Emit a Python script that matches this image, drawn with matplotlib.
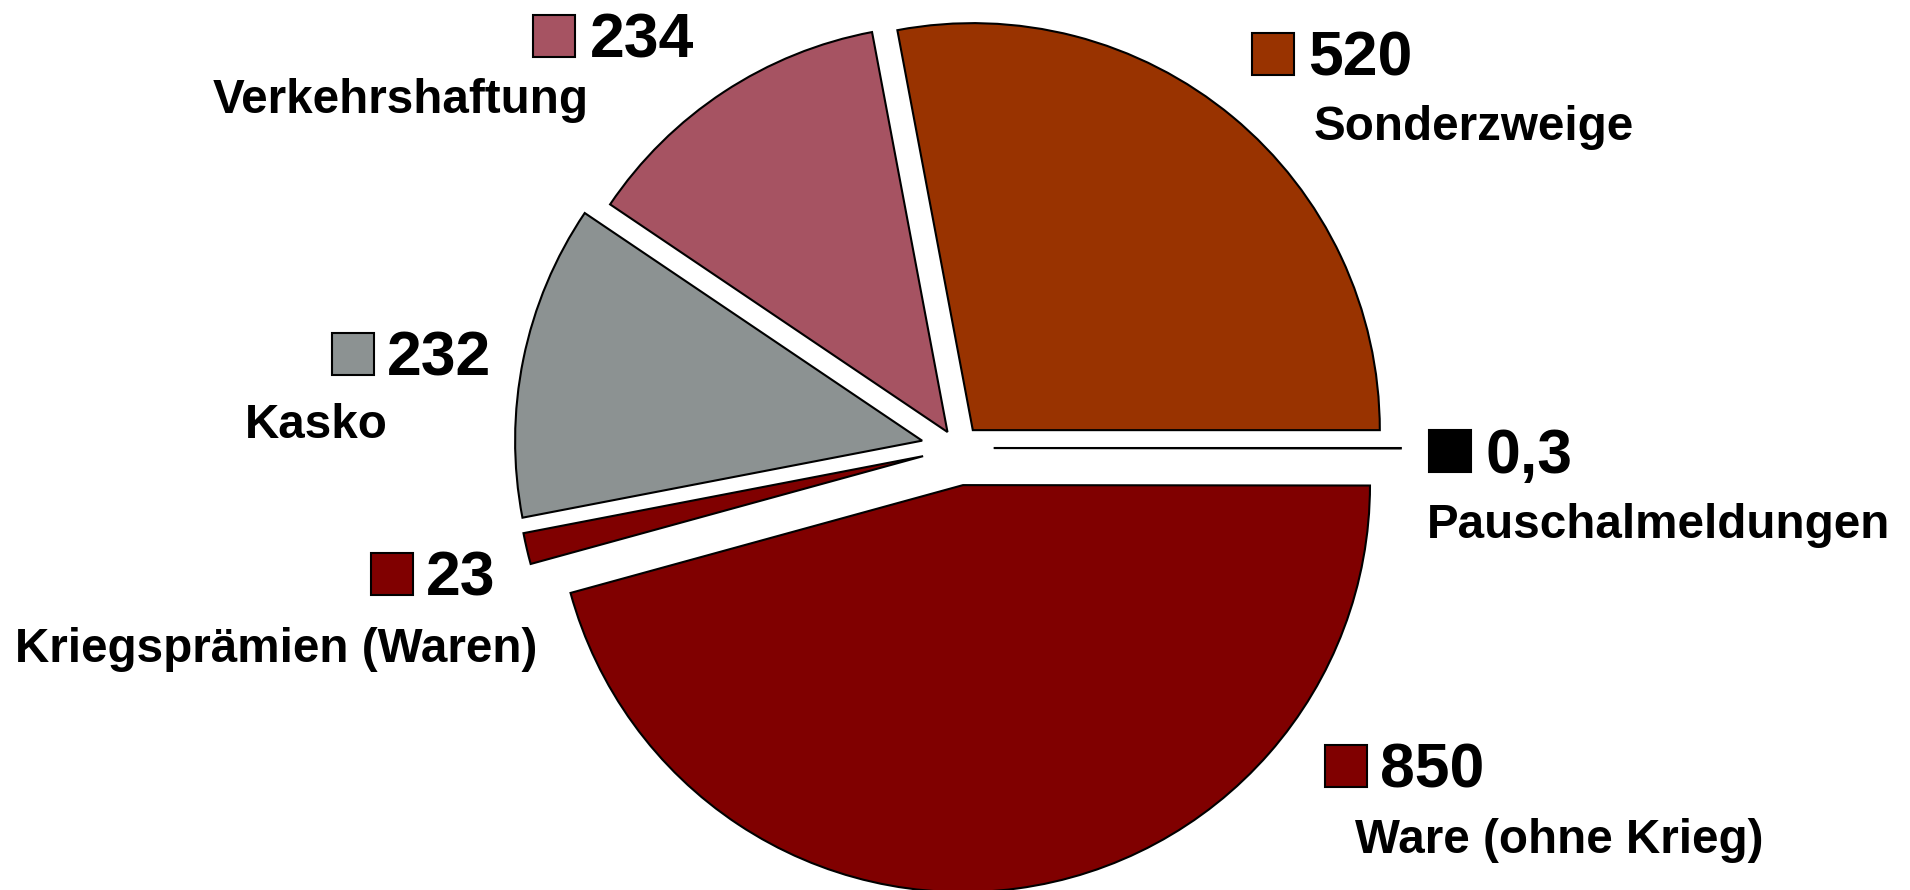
import matplotlib.pyplot as plt
from matplotlib.patches import Rectangle

# Daten (Reihenfolge im Uhrzeigersinn, ab Sonderzweige)
sparten = ['Sonderzweige', 'Pauschalmeldungen', 'Ware (ohne Krieg)',
           'Kriegsprämien (Waren)', 'Kasko', 'Verkehrshaftung']
werte = [520, 0.3, 850, 23, 232, 234]
wert_texte = ['520', '0,3', '850', '23', '232', '234']
farben = ['#993300', '#000000', '#800000', '#800000', '#8C9292', '#A65362']
explode = [0.057, 0.088, 0.092, 0.088, 0.09, 0.047]

W, H = 1910, 890
fig = plt.figure(figsize=(W / 100, H / 100), dpi=100)

# Kreis: Mitte bei (958, 448) px, Radius ca. 407 px
cx, cy, r = 958, 448, 407
seite = 2.5 * r
ax = fig.add_axes([(cx - seite / 2) / W, (H - cy - seite / 2) / H, seite / W, seite / H])
start = 360 * werte[0] / sum(werte)
ax.pie(werte, colors=farben, explode=explode, startangle=start, counterclock=False,
       wedgeprops=dict(edgecolor='black', linewidth=1.5))
ax.set_xlim(-1.25, 1.25)
ax.set_ylim(-1.25, 1.25)
ax.axis('off')

# Beschriftungen: Kästchen (links oben), Zahl und Name (Grundlinie), in Bildpixeln
kaestchen = [(1252, 33), (1429, 430), (1325, 745), (371, 553), (332, 333), (533, 15)]
zahl_pos = [(1308, 76), (1485, 473), (1380, 787), (426, 595), (387, 375), (590, 57)]
name_pos = [(1314, 140), (1427, 538), (1355, 853), (15, 662), (245, 438), (213, 113)]

def fx(x):
    return x / W

def fy(y):
    return 1 - y / H

for i in range(len(sparten)):
    kx, ky = kaestchen[i]
    fig.patches.append(Rectangle((fx(kx), fy(ky + 42)), 42 / W, 42 / H,
                                 transform=fig.transFigure, facecolor=farben[i],
                                 edgecolor='black', linewidth=1.5))
    fig.text(fx(zahl_pos[i][0]), fy(zahl_pos[i][1]), wert_texte[i],
             fontfamily='Liberation Sans', fontweight='bold', fontsize=45,
             ha='left', va='baseline')
    fig.text(fx(name_pos[i][0]), fy(name_pos[i][1]), sparten[i],
             fontfamily='Liberation Sans', fontweight='bold', fontsize=34.3,
             ha='left', va='baseline')

fig.savefig('out.png', dpi=100, facecolor='white')
